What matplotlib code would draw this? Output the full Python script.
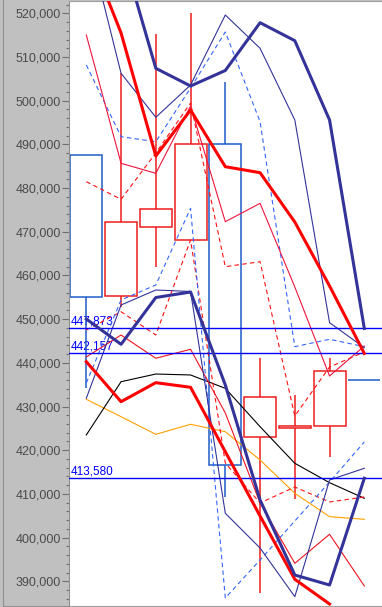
import numpy as np
import matplotlib
matplotlib.use("Agg")
from matplotlib import pyplot as plt
from matplotlib.patches import Rectangle
from matplotlib.lines import Line2D
from matplotlib.ticker import MultipleLocator, FuncFormatter

nan = np.nan

# candles (one per bar)
opens = [487570, 455370, 471020, 468050, 490020, 423030, 425020, 425480, 436000]
highs = [487570, 506270, 515260, 520000, 504210, 441040, 432640, 441040, 436000]
lows = [434240, 452780, 462000, 468050, 409360, 387390, 408840, 418520, 436000]
closes = [455000, 472170, 475140, 490090, 416620, 432110, 425480, 438130, 436000]

# band lines, upper / lower
thick_red_up = [535630, 515490, 487340, 497870, 484890, 483520, 472230, 457590, 442157]
thick_red_lo = [440260, 431110, 435460, 434400, 419660, 404950, 390460, 384810, nan]
thick_navy_up = [546000, 534950, 507410, 503360, 506910, 517850, 513730, 495580, 447873]
thick_navy_lo = [450030, 444240, 454950, 456210, 434930, 408610, 391440, 389150, 413580]
thin_navy_up = [538150, 506270, 496200, 503590, 519610, 511990, 495580, 449190, 443470]
thin_navy_lo = [431890, 453240, 456670, 456330, 405570, 397620, 386480, 413190, 415860]
thin_red_up = [515030, 485670, 483380, 498780, 472300, 476510, 457360, 436990, 443860]
thin_red_lo = [441340, 446370, 441040, 443100, 428520, 407920, 394120, 400760, 388930]
blue_dash_up = [508170, 491760, 490610, 502900, 515720, 495190, 443700, 445390, 443700]
blue_dash_lo = [435390, 454380, 457820, 475370, 386180, 394880, 403800, 412730, 421880]
red_dash_up = [481460, 477430, 488030, 499470, 462000, 463150, 427830, 439050, 442480]
red_dash_lo = [447520, 451700, 446370, 468120, 417080, 407920, 411580, 408150, 409300]
black_line = [423490, 435680, 437440, 437220, 434170, 425390, 417010, 412570, 408990]
orange_line = [431660, 427670, 423640, 425930, 424240, 417760, 410140, 404790, 404190]

levels = [447873, 442157, 413580]
level_labels = ["447,873", "442,157", "413,580"]

x = np.arange(len(opens))

fig = plt.figure(figsize=(3.82, 6.07), dpi=100, facecolor="#c0c0c0")
ax = fig.add_axes([69 / 382, 1.5 / 607, 313 / 382, 604.5 / 607])
ax.set_facecolor("white")
ax.set_xlim(-0.498, 8.509)
ax.set_ylim(384460, 522815)

# candles
up_col = "#ee1c1c"
down_col = "#1f5cc8"
w = 0.92
for i in x:
    o, h, l, c = opens[i], highs[i], lows[i], closes[i]
    col = up_col if c > o else down_col
    top, bot = max(o, c), min(o, c)
    ax.add_patch(Rectangle((i - w / 2, bot), w, top - bot, fill=False,
                           edgecolor=col, lw=1.1, zorder=2))
    if h > top:
        ax.vlines(i, top, h, color=col, lw=1.1, zorder=2)
    if l < bot:
        ax.vlines(i, l, bot, color=col, lw=1.1, zorder=2)

navy = "#333399"
ax.plot(x, orange_line, color="#ffa000", lw=0.8, zorder=3)
ax.plot(x, black_line, color="black", lw=0.8, zorder=3)
ax.plot(x, red_dash_up, color="#ff1010", lw=0.8, dashes=(4, 3), zorder=3)
ax.plot(x, red_dash_lo, color="#ff1010", lw=0.8, dashes=(4, 3), zorder=3)
ax.plot(x, blue_dash_up, color="#3366ff", lw=0.8, dashes=(4, 3), zorder=3)
ax.plot(x, blue_dash_lo, color="#3366ff", lw=0.8, dashes=(4, 3), zorder=3)
ax.plot(x, thin_red_up, color="#f0143c", lw=0.8, zorder=3)
ax.plot(x, thin_red_lo, color="#f01420", lw=0.8, zorder=3)
ax.plot(x, thin_navy_up, color=navy, lw=0.8, zorder=3)
ax.plot(x, thin_navy_lo, color=navy, lw=0.8, zorder=3)
ax.plot(x, thick_red_up, color="#ff0000", lw=2.2, zorder=4)
ax.plot(x, thick_red_lo, color="#ff0000", lw=2.2, zorder=4)
ax.plot(x, thick_navy_up, color=navy, lw=2.2, zorder=4)
ax.plot(x, thick_navy_lo, color=navy, lw=2.2, zorder=4)

# level lines with their values
for lev, lab in zip(levels, level_labels):
    ax.axhline(lev, color="#0000ff", lw=1.0, zorder=3.5)
    ax.annotate(lab, xy=(0, lev), xycoords=("axes fraction", "data"),
                xytext=(1.5, 2.5), textcoords="offset points",
                color="#0000ff", fontsize=8.5, family="Liberation Sans",
                va="baseline", ha="left", zorder=1.5)

# axis
ax.yaxis.set_major_locator(MultipleLocator(10000))
ax.yaxis.set_minor_locator(MultipleLocator(2000))
ax.yaxis.set_major_formatter(FuncFormatter(lambda v, p: "{:,.0f}".format(v)))
ax.tick_params(axis="y", which="major", length=5, width=0.8, color="#707070",
               labelsize=9, labelcolor="#4a4a4a", pad=0.8)
ax.tick_params(axis="y", which="minor", length=2.3, width=0.8, color="#707070")
for lab in ax.get_yticklabels():
    lab.set_family("Liberation Sans")
ax.set_xticks([])
ax.spines["right"].set_visible(False)
ax.spines["left"].set_color("#909090")
ax.spines["top"].set_color("#a0a0a0")
ax.spines["bottom"].set_color("#a0a0a0")
for s in ["left", "top", "bottom"]:
    ax.spines[s].set_linewidth(0.8)

# outer frame line of the grey panel
fig.add_artist(Line2D([2.5 / 382, 2.5 / 382], [1.5 / 607, 1], color="#909090", lw=0.8))
fig.add_artist(Line2D([2.5 / 382, 69 / 382], [1.5 / 607, 1.5 / 607], color="#909090", lw=0.8))

fig.savefig("out.png", dpi=100, facecolor=fig.get_facecolor())
